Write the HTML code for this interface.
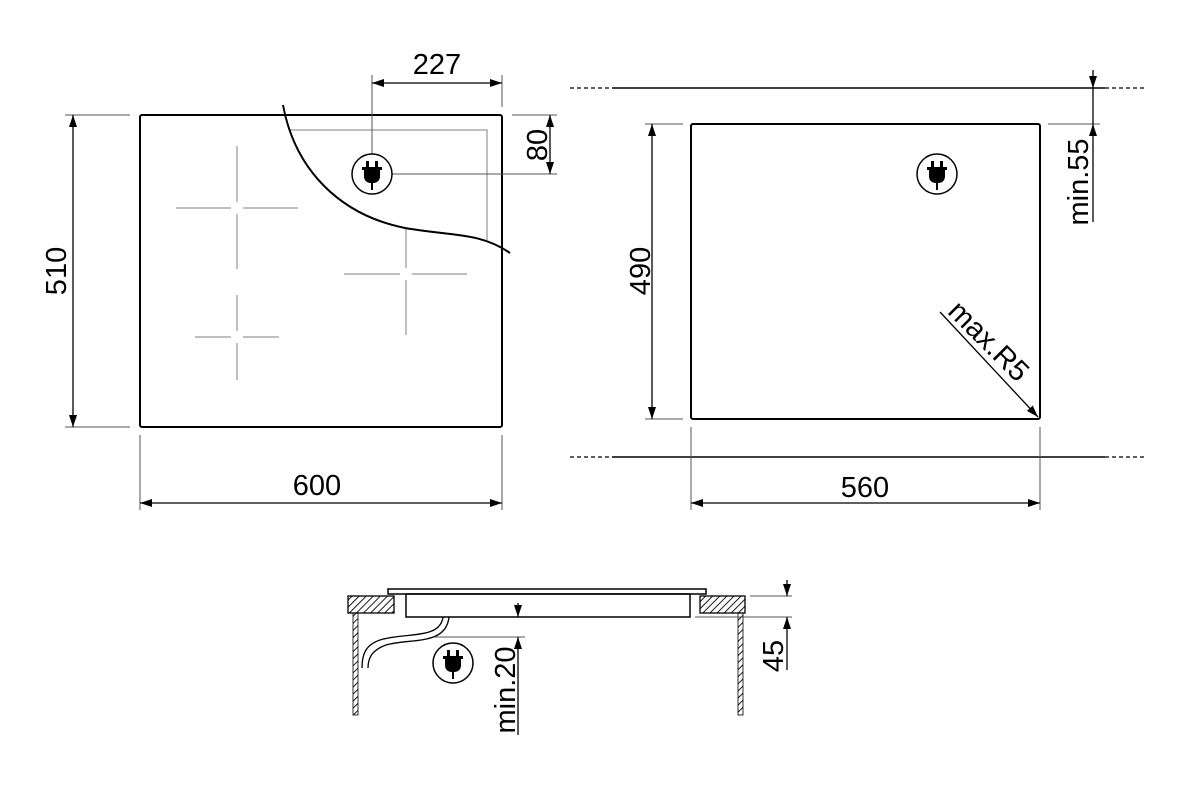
<!DOCTYPE html>
<html><head><meta charset="utf-8"><style>html,body{margin:0;padding:0;background:#fff}svg{display:block}text{font-family:"Liberation Sans",sans-serif;font-size:29px;fill:#000}</style></head><body>
<svg width="1200" height="804" viewBox="0 0 1200 804" xmlns="http://www.w3.org/2000/svg">
<defs>
<marker id="a" viewBox="0 0 12 8" refX="12" refY="4" markerWidth="12" markerHeight="8" orient="auto-start-reverse" markerUnits="userSpaceOnUse"><path d="M0,0 L12,4 L0,8 z" fill="#000"/></marker>
<g id="plug"><circle r="20" fill="#fff" stroke="#000" stroke-width="1.5"/><rect x="-6" y="-13" width="3" height="6"/><rect x="3" y="-13" width="3" height="6"/><rect x="-10" y="-7" width="20" height="3"/><path d="M-8,-4 L8,-4 L8,2 Q8,8 2,9 L-2,9 Q-8,8 -8,2 z"/><rect x="-1" y="9" width="2" height="7"/></g>
<pattern id="h" width="5" height="5" patternUnits="userSpaceOnUse" patternTransform="rotate(45)"><line x1="0" y1="0" x2="0" y2="5" stroke="#000" stroke-width="1.8"/></pattern>
</defs>
<g stroke="#000" fill="none">
<rect x="140" y="115" width="362" height="312" rx="2" stroke-width="2"/>
<g stroke="#aaa" stroke-width="1.5">
<path d="M290,130 H487 V240"/>
<path d="M237,146 V202 M237,214 V269 M176,208 H231 M243,208 H298"/>
<path d="M406,229 V268 M406,280 V335 M344,274 H400 M412,274 H467"/>
<path d="M237,295 V331 M237,343 V380 M195,337 H231 M243,337 H279"/>
</g>
<path d="M283,105 C295,170 340,215 405,228 C450,236 480,232 510,253" stroke-width="2"/>
<g stroke-width="1" stroke="#555">
<path d="M65,115 H130 M65,427 H130 M140,435 V510 M502,435 V510 M372,75 V160 M502,75 V107 M512,115 H557 M390,174 H557"/>
</g>
<g stroke-width="1.3">
<line x1="73" y1="115" x2="73" y2="427" marker-start="url(#a)" marker-end="url(#a)"/>
<line x1="140" y1="503" x2="502" y2="503" marker-start="url(#a)" marker-end="url(#a)"/>
<line x1="372" y1="83" x2="502" y2="83" marker-start="url(#a)" marker-end="url(#a)"/>
<line x1="550" y1="115" x2="550" y2="174" marker-start="url(#a)" marker-end="url(#a)"/>
</g>
<path d="M570,88 H612 M1105,88 H1145 M570,457 H612 M1105,457 H1145" stroke-width="1.3" stroke-dasharray="4,3"/>
<path d="M612,88 H1105 M612,457 H1105" stroke-width="1.5"/>
<rect x="691" y="124" width="349" height="295" rx="2" stroke-width="2"/>
<g stroke-width="1" stroke="#555">
<path d="M645,124 H683 M645,419 H683 M691,427 V510 M1040,427 V510 M1048,124 H1100"/>
</g>
<g stroke-width="1.3">
<line x1="652" y1="124" x2="652" y2="419" marker-start="url(#a)" marker-end="url(#a)"/>
<line x1="691" y1="503" x2="1040" y2="503" marker-start="url(#a)" marker-end="url(#a)"/>
<line x1="1093" y1="70" x2="1093" y2="88" marker-end="url(#a)"/>
<line x1="1093" y1="222" x2="1093" y2="124" marker-end="url(#a)"/>
<line x1="1093" y1="88" x2="1093" y2="124"/>
<line x1="940" y1="312" x2="1038" y2="417" marker-end="url(#a)"/>
</g>
<rect x="388" y="589" width="318" height="5" stroke-width="1.5" fill="#fff"/>
<rect x="406" y="594" width="284" height="23" stroke-width="1.5"/>
<rect x="348" y="596" width="46" height="17" stroke-width="1.3" fill="url(#h)"/>
<rect x="700" y="596" width="45" height="17" stroke-width="1.3" fill="url(#h)"/>
<rect x="353" y="613" width="5" height="102" stroke-width="0.8" fill="url(#h)"/>
<rect x="738" y="613" width="5" height="102" stroke-width="0.8" fill="url(#h)"/>
<path d="M443,617 C440,640 405,632 380,640 C365,645 362,655 362,668 M449,617 C446,646 410,638 386,645 C372,650 368,658 368,668" stroke-width="1.3"/>
<g stroke-width="1" stroke="#555"><path d="M750,596 H792 M695,617 H792 M435,637 H525"/></g>
<g stroke-width="1.3">
<line x1="787" y1="580" x2="787" y2="596" marker-end="url(#a)"/>
<line x1="787" y1="670" x2="787" y2="617" marker-end="url(#a)"/>
<line x1="518" y1="603" x2="518" y2="617" marker-end="url(#a)"/>
<line x1="518" y1="735" x2="518" y2="637" marker-end="url(#a)"/>
</g>
</g>
<use href="#plug" x="372" y="174"/>
<use href="#plug" x="937" y="174"/>
<use href="#plug" x="453" y="663"/>
<text x="437" y="74" text-anchor="middle">227</text>
<text x="317" y="495" text-anchor="middle">600</text>
<text x="865" y="497" text-anchor="middle">560</text>
<text transform="translate(66,271) rotate(-90)" text-anchor="middle">510</text>
<text transform="translate(547,145) rotate(-90)" text-anchor="middle">80</text>
<text transform="translate(650,271) rotate(-90)" text-anchor="middle">490</text>
<text transform="translate(1088,182) rotate(-90)" text-anchor="middle">min.55</text>
<text transform="translate(982,348) rotate(45)" text-anchor="middle">max.R5</text>
<text transform="translate(515,690) rotate(-90)" text-anchor="middle">min.20</text>
<text transform="translate(783,656) rotate(-90)" text-anchor="middle">45</text>
</svg>
</body></html>
